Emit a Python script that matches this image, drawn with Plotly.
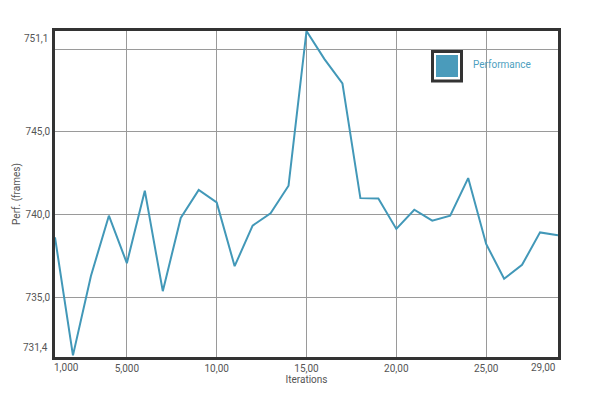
import plotly.graph_objects as go

iterations = list(range(1, 30))
performance = [738.63, 731.5, 736.3, 739.94, 737.07, 741.45, 735.38, 739.8, 741.49, 740.74,
               736.89, 739.34, 740.08, 741.75, 751.1, 749.4, 747.93, 741.0, 740.98, 739.14,
               740.3, 739.64, 739.94, 742.21, 738.23, 736.13, 736.97, 738.93, 738.75]

x_tick_vals = [5, 10, 15, 20, 25]
x_tick_text = ["5,000", "10,00", "15,00", "20,00", "25,00"]
y_tick_vals = [735, 740, 745, 750]
y_tick_text = ["735,0", "740,0", "745,0", ""]
x_range = [1, 29]
y_range = [731.4, 751.1]
x_edge_text = ["1,000", "29,00"]
y_edge_text = ["731,4", "751,1"]

LINE = "#4298b8"
FILL = "#4a9bbb"
FRAME = "#333333"
GRID = "#9a9a9a"
TXT = "#555555"
FONT = "Roboto"
FS = 10

L, R, T, B = 55, 41, 31, 39
W, H = 599, 396
PW, PH = W - L - R, H - T - B

def px(x):
    return (x - L) / PW

def py(y):
    return (H - B - y) / PH

fig = go.Figure()
fig.add_trace(go.Scatter(x=iterations, y=performance, mode="lines",
                         line=dict(color=LINE, width=2), name="Performance",
                         showlegend=False))

fig.update_layout(
    width=W, height=H,
    margin=dict(l=L, r=R, t=T, b=B),
    paper_bgcolor="white", plot_bgcolor="white",
    font=dict(family=FONT, size=FS, color=TXT),
    xaxis=dict(range=x_range, tickvals=x_tick_vals, ticktext=x_tick_text,
               showgrid=True, gridcolor=GRID, gridwidth=1, zeroline=False,
               showline=True, mirror=True, linecolor=FRAME, linewidth=3,
               ticks="", tickfont=dict(size=FS, color=TXT), automargin=False,
               title=dict(text="Iterations", font=dict(size=FS, color=TXT), standoff=0)),
    yaxis=dict(range=y_range, tickvals=y_tick_vals, ticktext=y_tick_text,
               showgrid=True, gridcolor=GRID, gridwidth=1, zeroline=False,
               showline=True, mirror=True, linecolor=FRAME, linewidth=3,
               ticks="", tickfont=dict(size=FS, color=TXT), automargin=False,
               title=dict(text="Perf. (frames)", font=dict(size=FS, color=TXT), standoff=4)),
)

annotations = [
    dict(x=x_range[0], y=0, xref="x", yref="paper", text=x_edge_text[0], showarrow=False,
         xanchor="left", yanchor="top", yshift=-3, xshift=-3, font=dict(size=FS, color=TXT)),
    dict(x=x_range[1], y=0, xref="x", yref="paper", text=x_edge_text[1], showarrow=False,
         xanchor="right", yanchor="top", yshift=-3, font=dict(size=FS, color=TXT)),
    dict(x=0, y=y_range[0], xref="paper", yref="y", text=y_edge_text[0], showarrow=False,
         xanchor="right", yanchor="bottom", xshift=-5, yshift=2, font=dict(size=FS, color=TXT)),
    dict(x=0, y=y_range[1], xref="paper", yref="y", text=y_edge_text[1], showarrow=False,
         xanchor="right", yanchor="top", xshift=-5, font=dict(size=FS, color=TXT)),
    dict(x=px(471), y=py(65), xref="paper", yref="paper", text="Performance", showarrow=False,
         xanchor="left", yanchor="middle", font=dict(size=FS, color="#4f9fc0")),
]

shapes = [
    dict(type="rect", xref="paper", yref="paper", x0=px(422), x1=px(548), y0=py(91), y1=py(40),
         fillcolor="white", line=dict(width=0), layer="between"),
    dict(type="rect", xref="paper", yref="paper", x0=px(432.5), x1=px(461.5), y0=py(81), y1=py(51.5),
         fillcolor="white", line=dict(color=FRAME, width=3), layer="above"),
    dict(type="rect", xref="paper", yref="paper", x0=px(436), x1=px(458), y0=py(77), y1=py(55),
         fillcolor=FILL, line=dict(width=0), layer="above"),
]

fig.update_layout(annotations=annotations, shapes=shapes)
fig.write_html("out.html")
